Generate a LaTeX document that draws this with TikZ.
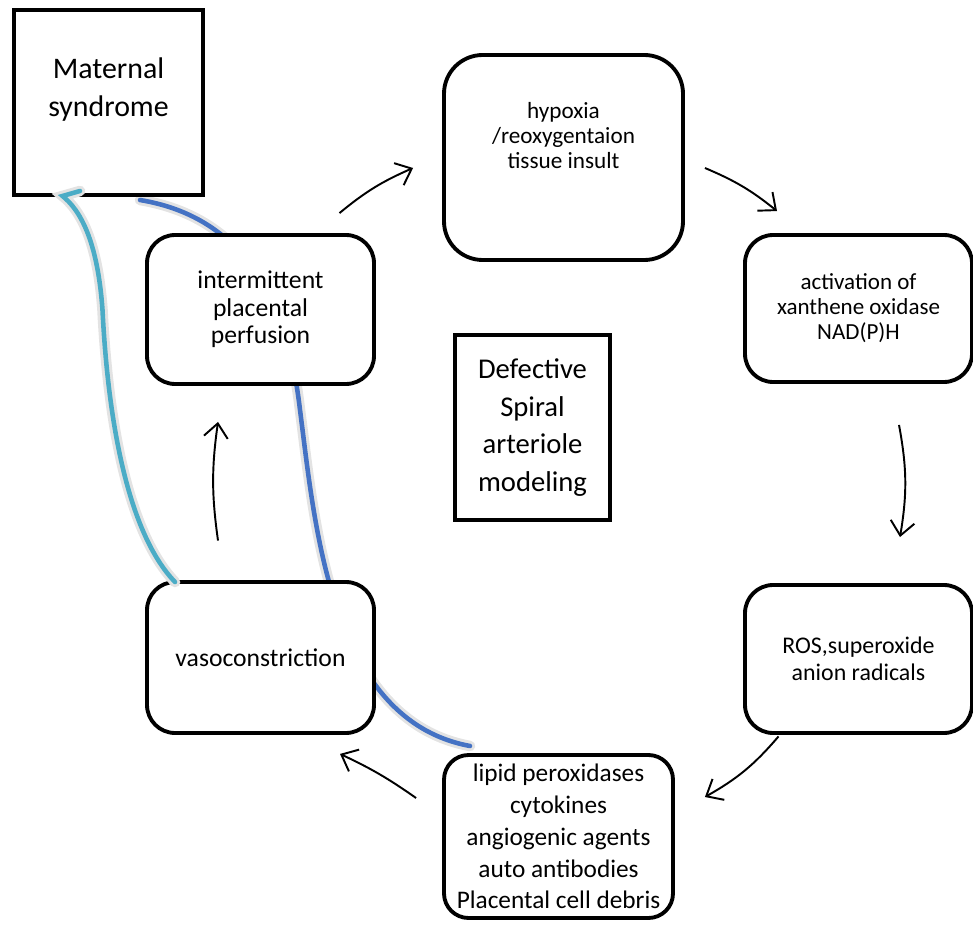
\documentclass[tikz,border=0pt]{standalone}
\usepackage{fontspec}
\setmainfont{Carlito}
\definecolor{veinblue}{RGB}{68, 114, 196}
\definecolor{veincyan}{RGB}{75, 172, 198}
\usetikzlibrary{arrows.meta, positioning, calc}

\begin{document}
\begin{tikzpicture}[
  rbox/.style={draw, line width=2.2pt, rounded corners=16pt, fill=white, align=center, inner sep=4pt},
  sbox/.style={draw, line width=2.2pt, fill=white, align=center, inner sep=4pt},
  flow/.style={-{Straight Barb[length=2.8mm, width=4.8mm]}, line width=1.1pt},
  halo/.style={line width=6pt, gray!22, line cap=round},
  vein/.style={line width=2.6pt, line cap=round}
]
  \useasboundingbox (0,0) rectangle (19.46,-18.54);

  % vessels behind the boxes
  \coordinate (blueA) at (9.4,-14.92);
  \coordinate (blueB) at (2.8,-4.0);
  \coordinate (cyanA) at (3.5,-11.64);
  \coordinate (cyanB) at (1.25,-3.92);
  \draw[halo] (blueA) .. controls (6.6,-14.4) and (6.3,-10.5) .. (6.0,-8.2)
    .. controls (5.7,-5.6) and (4.6,-4.3) .. (blueB);
  \draw[vein, veinblue] (blueA) .. controls (6.6,-14.4) and (6.3,-10.5) .. (6.0,-8.2)
    .. controls (5.7,-5.6) and (4.6,-4.3) .. (blueB);

  % boxes
  \node[sbox, minimum width=3.78cm, minimum height=3.7cm,
    label={[yshift=0.26cm, align=center, font=\fontsize{17}{21.5}\selectfont]center:Maternal\\syndrome}]
    (mat) at (2.17,-2.05) {};
  \node[sbox, minimum width=3.1cm, minimum height=3.7cm, font=\fontsize{16.3}{21.5}\selectfont]
    (spiral) at (10.65,-8.55) {Defective\\Spiral\\arteriole\\modeling};
  \node[rbox, minimum width=4.78cm, minimum height=4.1cm, rounded corners=22pt,
    label={[yshift=0.44cm, align=center, font=\fontsize{13.2}{14.2}\selectfont]center:hypoxia\\/reoxygentaion\\tissue insult}]
    (hyp) at (11.27,-3.15) {};
  \node[rbox, minimum width=4.54cm, minimum height=2.94cm, font=\fontsize{13.1}{14.2}\selectfont]
    (act) at (17.17,-6.17) {activation of\\xanthene oxidase\\NAD(P)H};
  \node[rbox, minimum width=4.54cm, minimum height=2.98cm, font=\fontsize{14.6}{15.6}\selectfont]
    (inter) at (5.21,-6.19) {intermittent\\placental\\perfusion};
  \node[rbox, minimum width=4.54cm, minimum height=3.02cm, font=\fontsize{14.6}{15.6}\selectfont]
    (vaso) at (5.21,-13.15) {vasoconstriction};
  \node[rbox, minimum width=4.54cm, minimum height=2.96cm, font=\fontsize{13.6}{15.3}\selectfont]
    (ros) at (17.17,-13.18) {ROS,superoxide\\anion radicals};
  \node[rbox, minimum width=4.58cm, minimum height=3.26cm, rounded corners=14pt, inner sep=2pt,
    font=\fontsize{14.4}{18.1}\selectfont]
    (lip) at (11.17,-16.73) {lipid peroxidases\\cytokines\\angiogenic agents\\auto antibodies\\Placental cell debris};

  % cyan vessel runs over the box edges
  \draw[halo] (cyanA) .. controls (2.5,-10.6) and (2.15,-8.2) .. (2.05,-6.2)
    .. controls (1.95,-4.8) and (1.6,-4.2) .. (cyanB) -- ++(0.35,0.1);
  \draw[vein, veincyan] (cyanA) .. controls (2.5,-10.6) and (2.15,-8.2) .. (2.05,-6.2)
    .. controls (1.95,-4.8) and (1.6,-4.2) .. (cyanB) -- ++(0.35,0.1);

  % cycle arrows
  \draw[flow] ([shift={(1.58,0.4)}]inter.north) to[bend left=8] ([shift={(-0.58,-0.21)}]hyp.west);
  \draw[flow] ([shift={(0.4,-0.21)}]hyp.east) to[bend left=8] ([shift={(-1.63,0.44)}]act.north);
  \draw[flow] ([shift={(0.81,-0.82)}]act.south) to[bend left=10] ([shift={(0.83,0.92)}]ros.north);
  \draw[flow] ([shift={(-1.6,-0.03)}]ros.south) to[bend left=10] ([shift={(0.6,0.79)}]lip.east);
  \draw[flow] ([shift={(-0.52,0.77)}]lip.west) to[bend right=5] ([shift={(1.59,-0.38)}]vaso.south);
  \draw[flow] ([shift={(-0.85,0.79)}]vaso.north) to[bend left=8] ([shift={(-0.85,-0.72)}]inter.south);
\end{tikzpicture}
\end{document}
